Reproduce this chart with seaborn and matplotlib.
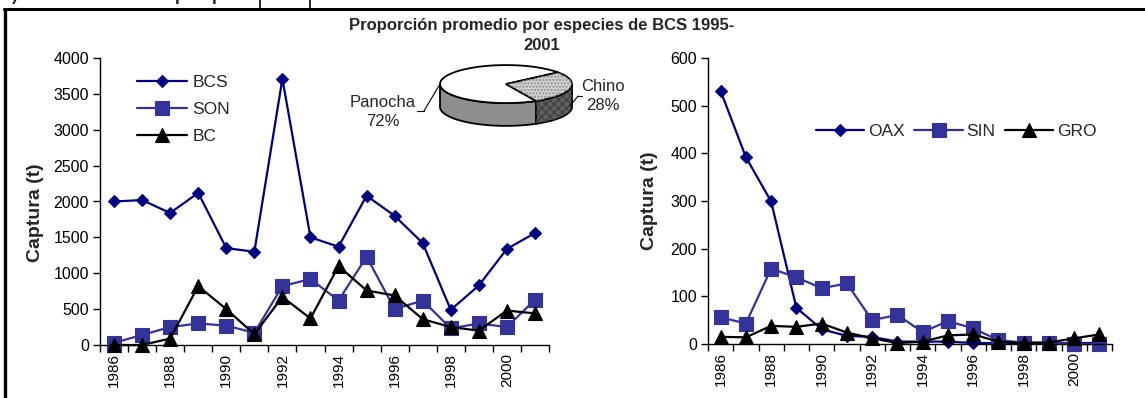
import numpy as np
import pandas as pd
import matplotlib
matplotlib.use("Agg")
import matplotlib.pyplot as plt
from matplotlib.lines import Line2D
from matplotlib.patches import Polygon, Wedge
import seaborn as sns

# ---- data ----
years = list(range(1986, 2002))

bcs = [2000, 2020, 1840, 2120, 1350, 1300, 3710, 1500, 1370, 2080, 1800, 1420, 490, 830, 1340, 1560]
son = [30, 140, 250, 300, 270, 170, 820, 920, 620, 1230, 500, 620, 230, 300, 250, 630]
bc = [0, 0, 90, 820, 500, 150, 670, 370, 1100, 760, 690, 360, 250, 200, 480, 440]

oax = [531, 392, 299, 76, 31, 17, 15, 5, 5, 5, 2, 2, 2, 2, 2, 2]
sin = [56, 43, 158, 140, 117, 127, 50, 61, 25, 48, 33, 8, 3, 3, 0, 0]
gro = [15, 14, 38, 36, 43, 24, 12, 2, 5, 18, 20, 5, 2, 3, 12, 20]

pie_labels = ["Panocha", "Chino"]
pie_shares = [72, 28]

left_yticks = list(range(0, 4001, 500))
right_yticks = list(range(0, 601, 100))

# ---- style ----
sns.set_style("ticks")
plt.rcParams["font.family"] = ["Liberation Sans", "DejaVu Sans"]
plt.rcParams["axes.edgecolor"] = "black"
plt.rcParams["xtick.color"] = "black"
plt.rcParams["ytick.color"] = "black"

W, H = 1145, 398
fig = plt.figure(figsize=(W / 100, H / 100), dpi=100)
fig.patch.set_facecolor("white")


def fx(px):
    return px / W


def fy(py):
    return 1 - py / H


NAVY = "#000080"
PURPLE = "#333399"
BLACK = "#000000"

styles = {
    "BCS": dict(color=NAVY, marker="D", markersize=6.6),
    "SON": dict(color=PURPLE, marker="s", markersize=10),
    "BC": dict(color=BLACK, marker="^", markersize=10),
    "OAX": dict(color=NAVY, marker="D", markersize=6.6),
    "SIN": dict(color=PURPLE, marker="s", markersize=10),
    "GRO": dict(color=BLACK, marker="^", markersize=10),
}


def draw_panel(ax, df, names, yticks):
    for name in names:
        st = styles[name]
        sns.lineplot(data=df, x="Año", y=name, ax=ax, color=st["color"],
                     marker=st["marker"], markersize=st["markersize"],
                     markeredgecolor=st["color"], markerfacecolor=st["color"],
                     markeredgewidth=0.8, linewidth=1.6, label=name,
                     legend=False, clip_on=False)
    ax.set_xlim(years[0] - 0.5, years[-1] + 0.5)
    ax.set_ylim(yticks[0], yticks[-1])
    ax.set_yticks(yticks)
    ax.set_yticklabels([str(v) for v in yticks])
    ax.set_xticks(years[::2])
    ax.set_xticklabels([str(y) for y in years[::2]])
    ax.set_xticks(np.arange(years[0] - 0.5, years[-1] + 1.0, 1.0), minor=True)
    ax.tick_params(axis="x", which="major", length=0, pad=6, labelrotation=90, labelsize=11)
    ax.tick_params(axis="x", which="minor", length=5, width=1, direction="out")
    ax.tick_params(axis="y", which="major", length=5, width=1, direction="out", pad=3, labelsize=11.5)
    for s in ("top", "right"):
        ax.spines[s].set_visible(False)
    for s in ("left", "bottom"):
        ax.spines[s].set_linewidth(1.0)
        ax.spines[s].set_color("black")
    ax.set_xlabel("")
    ax.set_ylabel("Captura (t)", fontsize=14, fontweight="bold")


# ---- left panel: Pacific north-west states ----
df_left = pd.DataFrame({"Año": years, "BCS": bcs, "SON": son, "BC": bc})
axL = fig.add_axes([fx(100), fy(345), fx(549) - fx(100), fy(58) - fy(345)])
draw_panel(axL, df_left, ["BCS", "SON", "BC"], left_yticks)
axL.yaxis.set_label_coords(-0.125, 0.46)
axL.legend(loc="upper left", bbox_to_anchor=(0.082, 0.94), frameon=False,
           fontsize=12.5, handlelength=2.9, handletextpad=0.3, labelspacing=0.66,
           borderpad=0, borderaxespad=0)

# ---- right panel: southern states ----
df_right = pd.DataFrame({"Año": years, "OAX": oax, "SIN": sin, "GRO": gro})
axR = fig.add_axes([fx(708), fy(344), fx(1112) - fx(708), fy(58) - fy(344)])
draw_panel(axR, df_right, ["OAX", "SIN", "GRO"], right_yticks)
axR.yaxis.set_label_coords(-0.125, 0.5)
axR.legend(loc="upper left", bbox_to_anchor=(0.267, 0.77), frameon=False, ncol=3,
           fontsize=12.5, handlelength=2.8, handletextpad=0.2, columnspacing=0.55,
           borderpad=0, borderaxespad=0)

# ---- 3-D style pie of species shares ----
pax = fig.add_axes([fx(426), fy(135), fx(586) - fx(426), fy(55) - fy(135)])
shares = np.array(pie_shares, dtype=float)
start = 38
bounds = start + np.concatenate([[0], np.cumsum(shares) / shares.sum() * 360])
depth = 1.2
side_colors = ["#8e8e8e", "#606060"]
for i in range(len(shares)):
    t1, t2 = bounds[i], bounds[i + 1]
    for k in (-360, 0, 360):
        lo, hi = max(t1, 180 + k), min(t2, 360 + k)
        if hi > lo:
            t = np.radians(np.linspace(lo, hi, 80))
            top = np.column_stack([np.cos(t), np.sin(t)])
            bot = np.column_stack([np.cos(t[::-1]), np.sin(t[::-1]) - depth])
            pax.add_patch(Polygon(np.vstack([top, bot]), closed=True,
                                  facecolor=side_colors[i], edgecolor="black", lw=1.3))
            if i == 1:
                pax.add_patch(Polygon(np.vstack([top, bot]), closed=True,
                                      facecolor="none", edgecolor="#404040", lw=0,
                                      hatch="xxxx"))
wedges, _ = pax.pie(shares, startangle=start, counterclock=True, radius=1, center=(0, 0),
                    colors=["white", "#d2d2d2"],
                    wedgeprops=dict(edgecolor="black", linewidth=1.3))
pax.add_patch(Wedge((0, 0), 1, bounds[1], bounds[2], facecolor="none",
                    edgecolor="#8a8a8a", lw=0, hatch="....."))
pax.set_aspect("auto")
pax.set_xlim(-1.212, 1.212)
pax.set_ylim(-2.68, 1.53)
pax.axis("off")

fig.text(fx(542), fy(35.5), "Proporción promedio por especies de BCS 1995-\n2001",
         ha="center", va="center", fontsize=12, fontweight="bold",
         linespacing=1.4, multialignment="center")

pie_text_pos = {"Panocha": (383, 112), "Chino": (603, 96)}
for lab, v in zip(pie_labels, pie_shares):
    x, y = pie_text_pos[lab]
    fig.text(fx(x), fy(y), f"{lab}\n{v:.0f}%", ha="center", va="center",
             fontsize=12, linespacing=1.4)
fig.add_artist(Line2D([fx(440), fx(424)], [fy(84), fy(111)], color="black", lw=0.8))
fig.add_artist(Line2D([fx(417), fx(424)], [fy(111), fy(111)], color="black", lw=0.8))
fig.add_artist(Line2D([fx(578), fx(570)], [fy(96), fy(106)], color="black", lw=0.8))
fig.add_artist(Line2D([fx(578), fx(582)], [fy(96), fy(96)], color="black", lw=0.8))

# ---- page frame and section heading ----
fig.add_artist(Line2D([fx(4), 1], [fy(8.5), fy(8.5)], color="black", lw=2.2))
fig.add_artist(Line2D([fx(4.5), fx(4.5)], [0, fy(8.5)], color="black", lw=2.4))
fig.add_artist(Line2D([fx(260), fx(260)], [1, fy(8)], color="black", lw=1.2))
fig.add_artist(Line2D([fx(310), fx(310)], [1, fy(8)], color="black", lw=1.2))
fig.text(fx(2), fy(0.5), "2) Indicadores de la pesquería", ha="left", va="baseline",
         fontsize=13, fontweight="bold")

fig.savefig("out.png", dpi=100, facecolor="white")
